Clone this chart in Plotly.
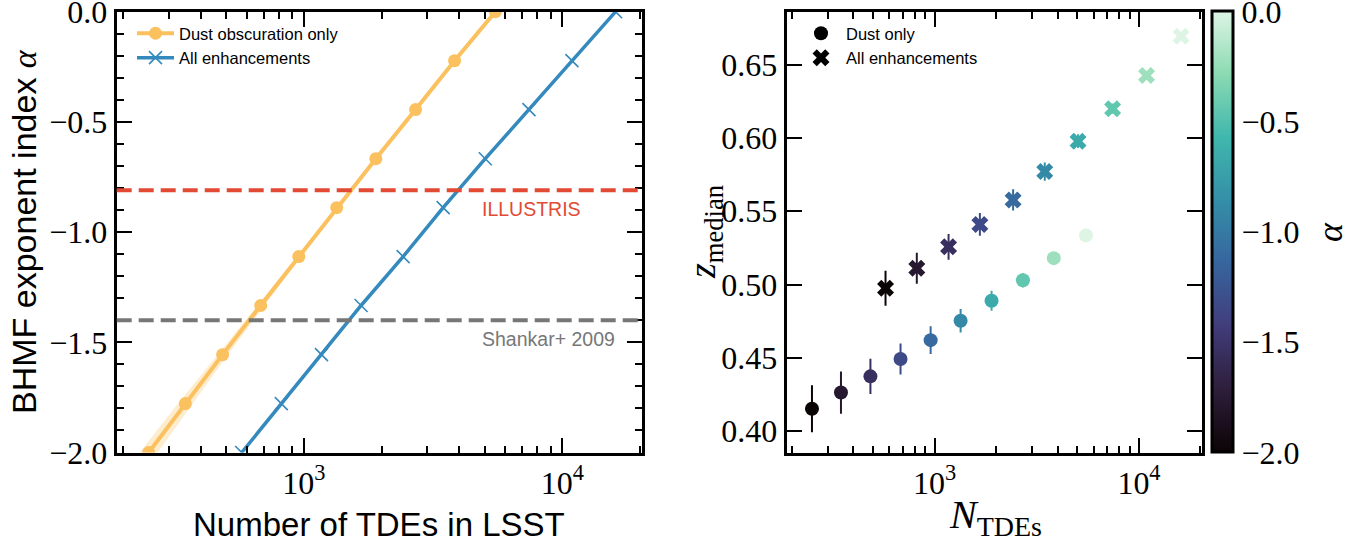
import plotly.graph_objects as go
from plotly.colors import sample_colorscale

# ---------------- data ----------------
alpha = [-2.0, -1.778, -1.556, -1.333, -1.111, -0.889, -0.667, -0.444, -0.222, 0.0]
n_dust = [251, 348, 485, 681, 956, 1340, 1899, 2705, 3829, 5507]
n_all = [575, 818, 1170, 1665, 2421, 3459, 5033, 7430, 10890, 16070]
n_dust_lo = [232, 326, 464, 660, 938, 1322, 1882, 2692, 3818, 5498]
n_dust_hi = [272, 372, 508, 703, 976, 1360, 1916, 2718, 3840, 5516]

z_dust = [0.4153, 0.4264, 0.4374, 0.4492, 0.4621, 0.4753, 0.4890, 0.5029, 0.5180, 0.5335]
z_dust_err = [0.016, 0.0144, 0.012, 0.0106, 0.0094, 0.008, 0.0068, 0.005, 0.004, 0.003]
z_all = [0.4975, 0.5111, 0.5257, 0.5410, 0.5577, 0.5770, 0.5977, 0.6199, 0.6425, 0.6693]
z_all_err = [0.0119, 0.0106, 0.0088, 0.0077, 0.0073, 0.0062, 0.0047, 0.0035, 0.003, 0.002]

alpha_illustris = -0.81
alpha_shankar = -1.4

label_dust = "Dust obscuration only"
label_all = "All enhancements"
label_dust_r = "Dust only"

alpha_ticks = [0, -0.5, -1.0, -1.5, -2.0]
alpha_ticktext = ["0.0", "\u22120.5", "\u22121.0", "\u22121.5", "\u22122.0"]
z_ticks = [0.40, 0.45, 0.50, 0.55, 0.60, 0.65]
z_ticktext = ["0.40", "0.45", "0.50", "0.55", "0.60", "0.65"]

# ---------------- style ----------------
ORANGE = "#FBC15E"
BLUE = "#348ABD"
RED = "#E24A33"
GRAY = "#777777"
SANS = "Liberation Sans"
SERIF = "Liberation Serif"
TICKSIZE = 32

mako = [
    [0.0, "#0B0405"], [0.143, "#2E1E3B"], [0.286, "#413D7B"], [0.429, "#37659E"],
    [0.571, "#348FA7"], [0.714, "#40B7AD"], [0.857, "#8BDAB2"], [1.0, "#DEF5E5"],
]

W, H = 1364, 540
def px(x):
    return x / W
def py(y):
    return 1 - y / H

fig = go.Figure()

# left panel: band + lines
fig.add_trace(go.Scatter(
    x=n_dust_lo + n_dust_hi[::-1], y=alpha + alpha[::-1],
    fill="toself", fillcolor="rgba(251,193,94,0.30)", line=dict(width=0),
    mode="lines", showlegend=False, hoverinfo="skip", xaxis="x", yaxis="y"))
fig.add_trace(go.Scatter(
    x=n_dust, y=alpha, mode="lines+markers", name=label_dust,
    line=dict(color=ORANGE, width=4), marker=dict(symbol="circle", size=13, color=ORANGE),
    xaxis="x", yaxis="y", legend="legend"))
fig.add_trace(go.Scatter(
    x=n_all, y=alpha, mode="lines+markers", name=label_all,
    line=dict(color=BLUE, width=3.5),
    marker=dict(symbol="x-thin", size=13, color=BLUE, line=dict(color=BLUE, width=1.6)),
    xaxis="x", yaxis="y", legend="legend"))

# right panel: per-point error bars coloured by alpha
cols = sample_colorscale(mako, [(a + 2.0) / 2.0 for a in alpha])
for xs, zs, es in ((n_dust, z_dust, z_dust_err), (n_all, z_all, z_all_err)):
    for xv, zv, ev, c in zip(xs, zs, es, cols):
        fig.add_trace(go.Scatter(
            x=[xv], y=[zv], mode="markers", marker=dict(size=1, color=c),
            error_y=dict(type="data", array=[ev], color=c, thickness=2, width=0),
            showlegend=False, hoverinfo="skip", xaxis="x2", yaxis="y2"))

fig.add_trace(go.Scatter(
    x=n_dust, y=z_dust, mode="markers", showlegend=False,
    marker=dict(symbol="circle", size=14, color=alpha, colorscale=mako, cmin=-2, cmax=0,
                showscale=True,
                colorbar=dict(
                    x=px(1212), xanchor="left", xref="paper", xpad=0, ypad=0,
                    y=py(452.5), yanchor="bottom", len=441 / H, lenmode="fraction",
                    thickness=21, thicknessmode="pixels",
                    outlinewidth=3, outlinecolor="black",
                    tickvals=alpha_ticks, ticktext=alpha_ticktext,
                    ticks="", ticklabelposition="outside", ticklabeloverflow="allow",
                    tickfont=dict(family=SERIF, size=TICKSIZE, color="black"))),
    xaxis="x2", yaxis="y2"))
fig.add_trace(go.Scatter(
    x=n_all, y=z_all, mode="markers", showlegend=False,
    marker=dict(symbol="x", size=15, color=alpha, colorscale=mako, cmin=-2, cmax=0,
                line=dict(width=0)),
    xaxis="x2", yaxis="y2"))

# legend entries for right panel
fig.add_trace(go.Scatter(x=[None], y=[None], mode="markers", name=label_dust_r,
                         marker=dict(symbol="circle", size=14, color="black"),
                         xaxis="x2", yaxis="y2", legend="legend2"))
fig.add_trace(go.Scatter(x=[None], y=[None], mode="markers", name=label_all,
                         marker=dict(symbol="x", size=15, color="black", line=dict(width=0)),
                         xaxis="x2", yaxis="y2", legend="legend2"))

# reference lines
for yv, c in ((alpha_illustris, RED), (alpha_shankar, GRAY)):
    fig.add_shape(type="line", xref="x domain", yref="y", x0=0, x1=1, y0=yv, y1=yv,
                  line=dict(color=c, width=4, dash="15px,7px"), layer="above")

xrange_log = [2.276, 4.307]
minor_x = [200, 300, 400, 500, 600, 700, 800, 900,
           2000, 3000, 4000, 5000, 6000, 7000, 8000, 9000, 20000]
axis_common = dict(showline=True, linewidth=3, linecolor="black", mirror="allticks",
                   ticks="inside", tickcolor="black", showgrid=False, zeroline=False,
                   ticklabeloverflow="allow", automargin=False,
                   tickfont=dict(family=SERIF, size=TICKSIZE, color="black"))

fig.update_layout(
    width=W, height=H, margin=dict(l=0, r=0, t=0, b=0, autoexpand=False),
    plot_bgcolor="white", paper_bgcolor="white",
    xaxis=dict(domain=[px(116.7), px(641.7)], type="log", range=xrange_log,
               tickvals=[1e3, 1e4], ticktext=["10<sup>3</sup>", "10<sup>4</sup>"],
               ticklen=15, tickwidth=2, anchor="y",
               minor=dict(tickvals=minor_x, ticks="inside", ticklen=7, tickwidth=1.5,
                          tickcolor="black", showgrid=False),
               **axis_common),
    yaxis=dict(domain=[py(452.5), py(11.7)], range=[-2.0, 0.0],
               tickvals=alpha_ticks, ticktext=alpha_ticktext,
               ticklen=15, tickwidth=2, anchor="x",
               minor=dict(dtick=0.1, tick0=0, ticks="inside", ticklen=7, tickwidth=1.5,
                          tickcolor="black", showgrid=False),
               **axis_common),
    xaxis2=dict(domain=[px(786.7), px(1201.7)], type="log", range=xrange_log,
                tickvals=[1e3, 1e4], ticktext=["10<sup>3</sup>", "10<sup>4</sup>"],
                ticklen=15, tickwidth=2, anchor="y2",
                minor=dict(tickvals=minor_x, ticks="inside", ticklen=7, tickwidth=1.5,
                           tickcolor="black", showgrid=False),
                **axis_common),
    yaxis2=dict(domain=[py(452.5), py(11.7)], range=[0.3855, 0.686],
                tickvals=z_ticks, ticktext=z_ticktext,
                ticklen=15, tickwidth=2, anchor="x2",
                **axis_common),
    legend=dict(x=px(132), y=py(16), xanchor="left", yanchor="top",
                bgcolor="rgba(0,0,0,0)", borderwidth=0, itemwidth=37,
                font=dict(family=SANS, size=16.5, color="black"), tracegroupgap=0),
    legend2=dict(x=px(796), y=py(16), xanchor="left", yanchor="top",
                 bgcolor="rgba(0,0,0,0)", borderwidth=0, itemwidth=40,
                 font=dict(family=SANS, size=16.5, color="black"), tracegroupgap=0),
    showlegend=True,
)

annots = [
    dict(text="ILLUSTRIS", x=px(480), y=py(209), xanchor="left", yanchor="middle",
         font=dict(family=SANS, size=19.5, color=RED)),
    dict(text="Shankar+ 2009", x=px(480), y=py(339), xanchor="left", yanchor="middle",
         font=dict(family=SANS, size=19.5, color=GRAY)),
    dict(text="Number of TDEs in LSST", x=px(379), y=py(524), xanchor="center", yanchor="middle",
         font=dict(family=SANS, size=33, color="black")),
    dict(text="BHMF exponent index <span style=\"font-family:Liberation Serif\"><i>\u03b1</i></span>",
         x=px(24), y=py(232), xanchor="center", yanchor="middle", textangle=-90,
         font=dict(family=SANS, size=34, color="black")),
    dict(text="<i>N</i><sub>TDEs</sub>", x=px(995), y=py(517), xanchor="center", yanchor="middle",
         font=dict(family=SERIF, size=40, color="black")),
    dict(text="<i>z</i><sub>median</sub>", x=px(705), y=py(232), xanchor="center", yanchor="middle",
         textangle=-90, font=dict(family=SERIF, size=38, color="black")),
    dict(text="<i>\u03b1</i>", x=px(1330), y=py(232), xanchor="center", yanchor="middle",
         textangle=-90, font=dict(family=SERIF, size=36, color="black")),
]
for a in annots:
    a.update(xref="paper", yref="paper", showarrow=False)
    fig.add_annotation(**a)

fig.write_html("out.html")
